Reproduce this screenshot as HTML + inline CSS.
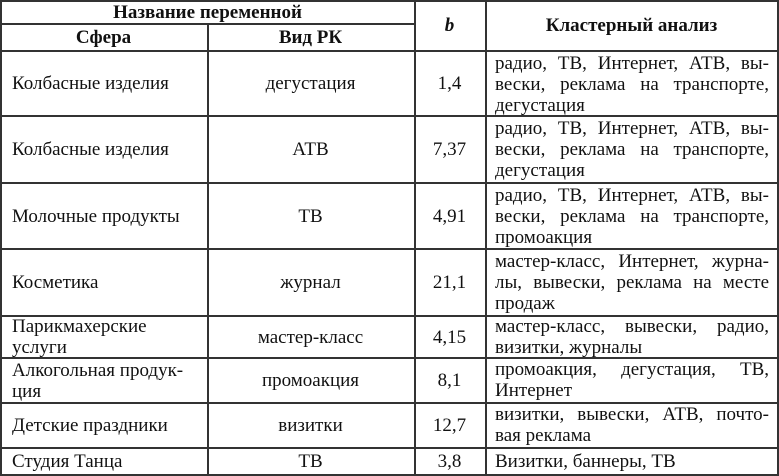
<!DOCTYPE html>
<html><head><meta charset="utf-8"><style>
body{margin:0;width:779px;height:476px;background:#fff;overflow:hidden;font-family:"Liberation Serif","DejaVu Serif",serif;font-size:19px;color:#111}
.h{position:absolute;background:#333;height:2px}
.v{position:absolute;background:#333;width:2px}
.c{position:absolute;display:flex;align-items:center;line-height:21px}
.l{justify-content:flex-start;padding-left:12px;box-sizing:border-box}
.m{justify-content:center;text-align:center}
.t{position:absolute;left:495px;width:274px;line-height:21px}
.t div{text-align:justify;text-align-last:justify;white-space:nowrap}
.t div.e{text-align-last:left}
b{font-weight:bold}
</style></head><body>
<div class="h" style="left:0;top:0;width:779px"></div>
<div class="h" style="left:0;top:23px;width:415px"></div>
<div class="h" style="left:0;top:50px;width:779px"></div>
<div class="h" style="left:0;top:115px;width:779px"></div>
<div class="h" style="left:0;top:182px;width:779px"></div>
<div class="h" style="left:0;top:248px;width:779px"></div>
<div class="h" style="left:0;top:315px;width:779px"></div>
<div class="h" style="left:0;top:357px;width:779px"></div>
<div class="h" style="left:0;top:402px;width:779px"></div>
<div class="h" style="left:0;top:447px;width:779px"></div>
<div class="h" style="left:0;top:474px;width:779px"></div>
<div class="v" style="left:0;top:0;height:476px"></div>
<div class="v" style="left:207px;top:24px;height:452px"></div>
<div class="v" style="left:414px;top:0;height:476px"></div>
<div class="v" style="left:485px;top:0;height:476px"></div>
<div class="v" style="left:777px;top:0;height:476px"></div>

<div class="c m" style="left:0;top:1px;width:415px;height:23px"><b>Название переменной</b></div>
<div class="c m" style="left:0;top:25px;width:207px;height:25px"><b>Сфера</b></div>
<div class="c m" style="left:207px;top:25px;width:207px;height:25px"><b>Вид РК</b></div>
<div class="c m" style="left:414px;top:1px;width:71px;height:49px"><b><i>b</i></b></div>
<div class="c m" style="left:486px;top:1px;width:291px;height:49px"><b>Кластерный анализ</b></div>

<div class="c l" style="left:0;top:52px;width:207px;height:63px">Колбасные изделия</div>
<div class="c m" style="left:207px;top:52px;width:207px;height:63px">дегустация</div>
<div class="c m" style="left:414px;top:52px;width:71px;height:63px">1,4</div>
<div class="t" style="top:53px"><div>радио, ТВ, Интернет, АТВ, вы-</div><div>вески, реклама на транспорте,</div><div class="e">дегустация</div></div>

<div class="c l" style="left:0;top:117px;width:207px;height:65px">Колбасные изделия</div>
<div class="c m" style="left:207px;top:117px;width:207px;height:65px">АТВ</div>
<div class="c m" style="left:414px;top:117px;width:71px;height:65px">7,37</div>
<div class="t" style="top:118px"><div>радио, ТВ, Интернет, АТВ, вы-</div><div>вески, реклама на транспорте,</div><div class="e">дегустация</div></div>

<div class="c l" style="left:0;top:184px;width:207px;height:64px">Молочные продукты</div>
<div class="c m" style="left:207px;top:184px;width:207px;height:64px">ТВ</div>
<div class="c m" style="left:414px;top:184px;width:71px;height:64px">4,91</div>
<div class="t" style="top:185px"><div>радио, ТВ, Интернет, АТВ, вы-</div><div>вески, реклама на транспорте,</div><div class="e">промоакция</div></div>

<div class="c l" style="left:0;top:250px;width:207px;height:65px">Косметика</div>
<div class="c m" style="left:207px;top:250px;width:207px;height:65px">журнал</div>
<div class="c m" style="left:414px;top:250px;width:71px;height:65px">21,1</div>
<div class="t" style="top:251px"><div>мастер-класс, Интернет, журна-</div><div>лы, вывески, реклама на месте</div><div class="e">продаж</div></div>

<div class="c l" style="left:0;top:316px;width:207px;height:42px">Парикмахерские<br>услуги</div>
<div class="c m" style="left:207px;top:316px;width:207px;height:42px">мастер-класс</div>
<div class="c m" style="left:414px;top:316px;width:71px;height:42px">4,15</div>
<div class="t" style="top:316px"><div>мастер-класс, вывески, радио,</div><div class="e">визитки, журналы</div></div>

<div class="c l" style="left:0;top:359px;width:207px;height:43px">Алкогольная продук-<br>ция</div>
<div class="c m" style="left:207px;top:359px;width:207px;height:43px">промоакция</div>
<div class="c m" style="left:414px;top:359px;width:71px;height:43px">8,1</div>
<div class="t" style="top:359px"><div>промоакция, дегустация, ТВ,</div><div class="e">Интернет</div></div>

<div class="c l" style="left:0;top:404px;width:207px;height:43px">Детские праздники</div>
<div class="c m" style="left:207px;top:404px;width:207px;height:43px">визитки</div>
<div class="c m" style="left:414px;top:404px;width:71px;height:43px">12,7</div>
<div class="t" style="top:404px"><div>визитки, вывески, АТВ, почто-</div><div class="e">вая реклама</div></div>

<div class="c l" style="left:0;top:449px;width:207px;height:25px">Студия Танца</div>
<div class="c m" style="left:207px;top:449px;width:207px;height:25px">ТВ</div>
<div class="c m" style="left:414px;top:449px;width:71px;height:25px">3,8</div>
<div class="t" style="top:451px"><div class="e">Визитки, баннеры, ТВ</div></div>
</body></html>
